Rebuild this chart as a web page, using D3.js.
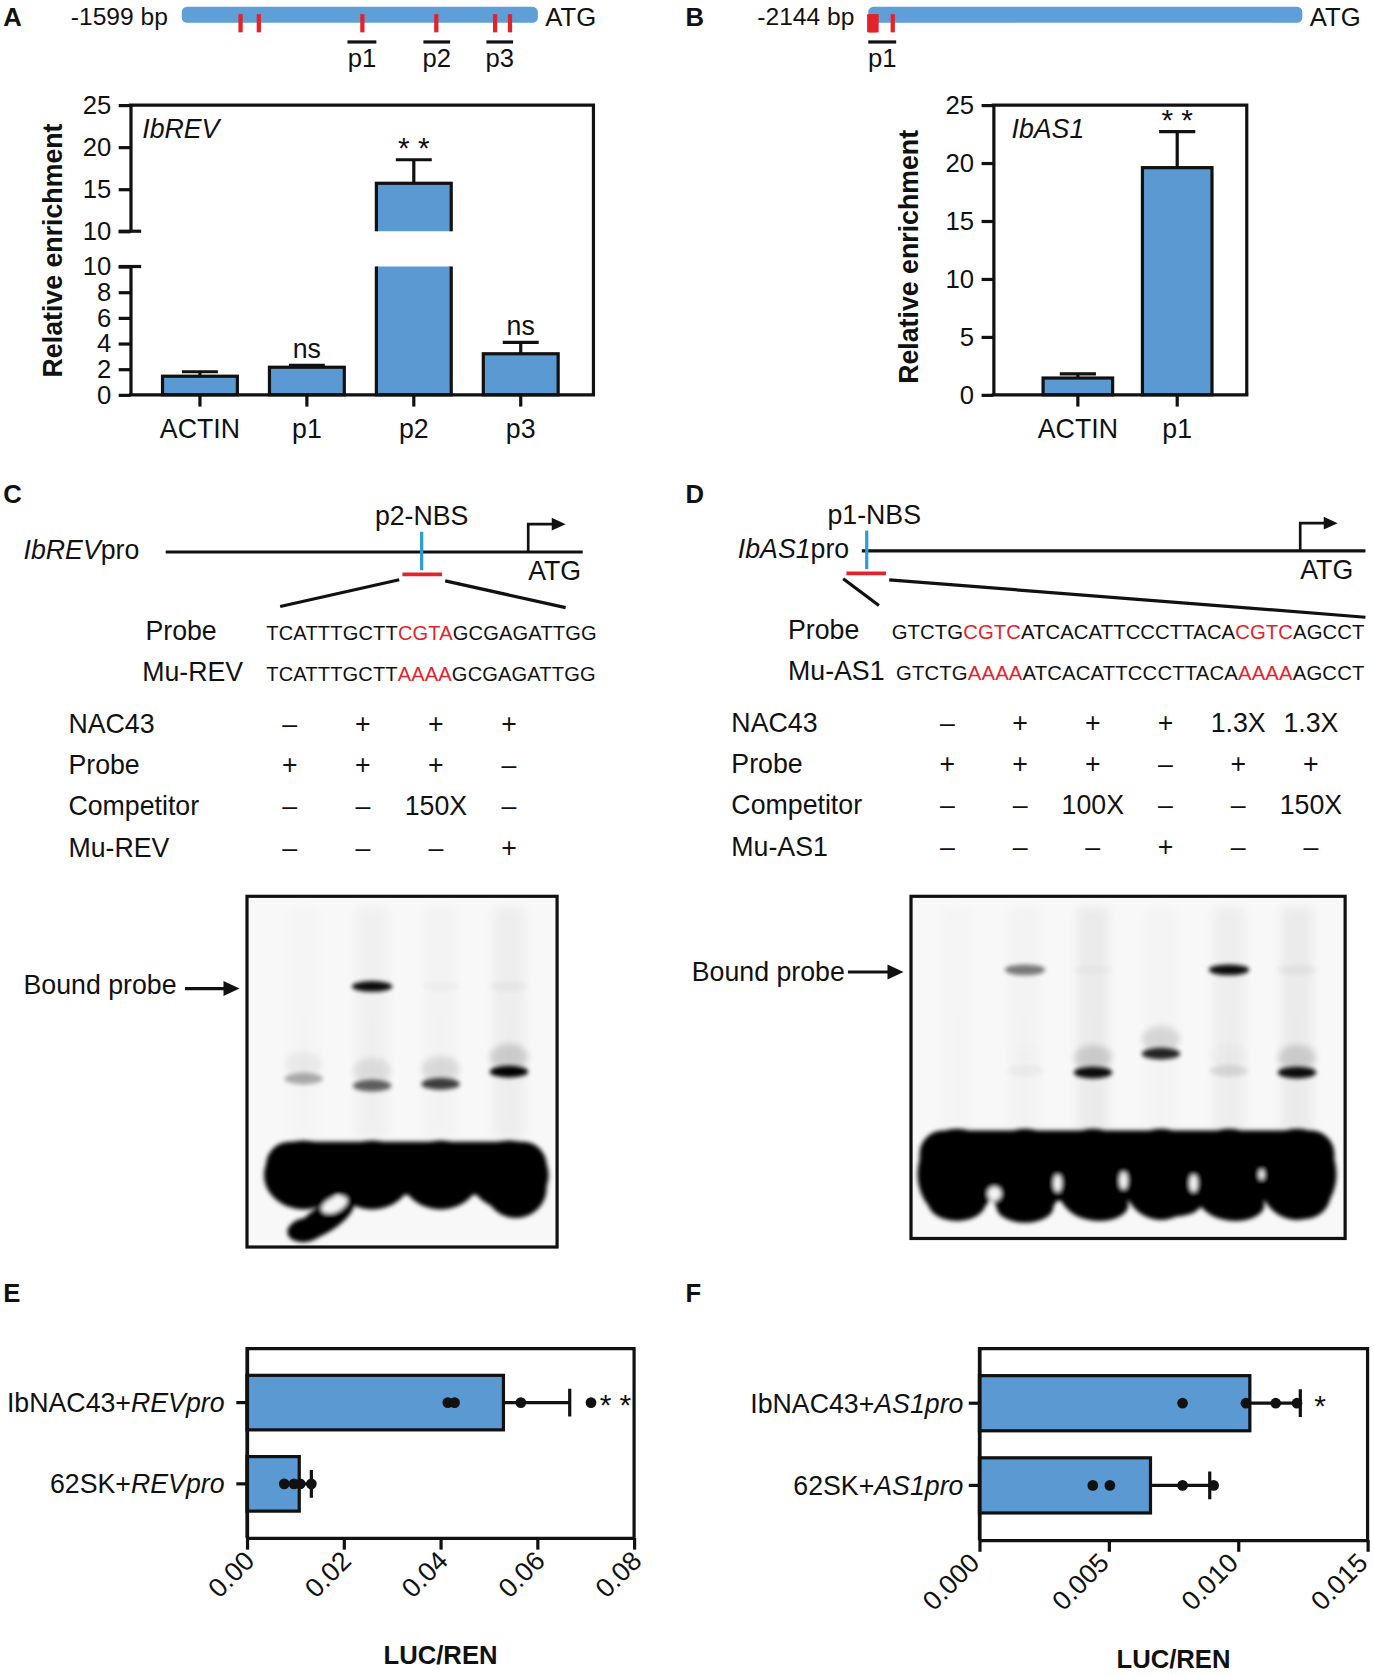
<!DOCTYPE html>
<html>
<head>
<meta charset="utf-8">
<script src="https://cdn.jsdelivr.net/npm/d3@7"></script>
<style>
  body { margin: 0; background: #fff; }
  svg { display: block; }
  text { font-family: "Liberation Sans", Arial, Helvetica, sans-serif; fill: #111; }
</style>
</head>
<body>
<svg id="fig"></svg>
<script>
// ---- ChIP-qPCR (A, B) ----
const revCats = ["ACTIN", "p1", "p2", "p3"];
const revMean = [1.45, 2.15, 15.7, 3.2];
const revSD = [0.35, 0.15, 2.8, 0.88];
const revSig = ["", "ns", "**", "ns"];
const revTicksLow = [0, 2, 4, 6, 8, 10];
const revTicksHigh = [10, 15, 20, 25];

const as1Cats = ["ACTIN", "p1"];
const as1Mean = [1.45, 19.6];
const as1SD = [0.35, 3.1];
const as1Sig = ["", "**"];
const as1Ticks = [0, 5, 10, 15, 20, 25];

// ---- promoter maps, bp upstream of ATG ----
const revPromLen = 1599;
const revSites = [-1335, -1253, -788, -456, -192, -125];
const revProbes = [["p1", -855, -725], ["p2", -514, -394], ["p3", -231, -111]];
const revNBS = -470;
const as1PromLen = 2144;
const as1Sites = [-2139, -2130, -2121, -2112, -2103, -2023];
const as1Probes = [["p1", -2144, -2006]];
const as1NBS = -2120;

// ---- EMSA (C, D) ----
const emsaRevRows = ["NAC43", "Probe", "Competitor", "Mu-REV"];
const emsaRevCells = [
  ["–", "+", "+", "+"],
  ["+", "+", "+", "–"],
  ["–", "–", "150X", "–"],
  ["–", "–", "–", "+"]
];
const revProbeSeq = ["TCATTTGCTT", "CGTA", "GCGAGATTGG"];
const revMutSeq = ["TCATTTGCTT", "AAAA", "GCGAGATTGG"];

const emsaAs1Rows = ["NAC43", "Probe", "Competitor", "Mu-AS1"];
const emsaAs1Cells = [
  ["–", "+", "+", "+", "1.3X", "1.3X"],
  ["+", "+", "+", "–", "+", "+"],
  ["–", "–", "100X", "–", "–", "150X"],
  ["–", "–", "–", "+", "–", "–"]
];
const as1ProbeSeq = ["GTCTG", "CGTC", "ATCACATTCCCTTACA", "CGTC", "AGCCT"];
const as1MutSeq = ["GTCTG", "AAAA", "ATCACATTCCCTTACA", "AAAA", "AGCCT"];

// band intensity per lane and relative mobility
const gelRevBound = [0, 0.95, 0.02, 0.03];
const gelRevFree = [0.3, 0.6, 0.75, 1.0];
const gelRevFreeRf = [0.52, 0.54, 0.535, 0.5];
const gelRevSmear = [0.01, 0.03, 0.02, 0.04];
const gelAs1Bound = [0, 0.5, 0.02, 0, 0.95, 0.04];
const gelAs1Free = [0, 0.03, 0.95, 0.85, 0.1, 0.95];
const gelAs1FreeRf = [0.51, 0.51, 0.515, 0.46, 0.51, 0.515];
const gelAs1Smear = [0.01, 0.02, 0.05, 0.015, 0.04, 0.05];

// ---- dual luciferase (E, F) ----
const lucRevCats = ["IbNAC43+", "62SK+"];
const lucRevItal = ["REVpro", "REVpro"];
const lucRevMean = [0.0530, 0.0108];
const lucRevSD = [0.0137, 0.0025];
const lucRevReps = [[0.0415, 0.0429, 0.0566, 0.0711], [0.0077, 0.0097, 0.0110, 0.0133]];
const lucRevSig = ["**", ""];
const lucRevTicks = [0, 0.02, 0.04, 0.06, 0.08];

const lucAs1Cats = ["IbNAC43+", "62SK+"];
const lucAs1Ital = ["AS1pro", "AS1pro"];
const lucAs1Mean = [0.01045, 0.00661];
const lucAs1SD = [0.00195, 0.00229];
const lucAs1Reps = [[0.00785, 0.0103, 0.01145, 0.01227], [0.00438, 0.00504, 0.00785, 0.00905]];
const lucAs1Sig = ["*", ""];
const lucAs1Ticks = [0, 0.005, 0.010, 0.015];

// ------------------------------------------------------------------
const BLUE = "#5b99d3", RED = "#e3232c", NBS = "#2a9bd8", INK = "#111";
const LW = 3;
const FS = 25;

const svg = d3.select("#fig")
  .attr("width", 1374).attr("height", 1675)
  .attr("viewBox", "0 0 1285 1566");

const defs = svg.append("defs");
[["b1", 1.2], ["b2", 2.2], ["b3", 3.2], ["b5", 5]].forEach(([id, s]) => {
  defs.append("filter").attr("id", id).attr("x", "-50%").attr("y", "-50%")
    .attr("width", "200%").attr("height", "200%")
    .append("feGaussianBlur").attr("stdDeviation", s);
});

function txt(g, x, y, s, size, opt = {}) {
  return g.append("text").attr("x", x).attr("y", y)
    .attr("font-size", size)
    .attr("font-weight", opt.bold ? "bold" : null)
    .attr("font-style", opt.italic ? "italic" : null)
    .attr("text-anchor", opt.anchor || "start")
    .text(s);
}

function styleAxis(g, size) {
  g.selectAll("path, line").attr("stroke", INK).attr("stroke-width", LW);
  g.selectAll("text").attr("font-size", size).attr("fill", INK)
    .attr("font-family", '"Liberation Sans", Arial, sans-serif');
}

// panel letters
[["A", 3, 24], ["B", 641, 24], ["C", 3, 470], ["D", 641, 470], ["E", 3, 1217], ["F", 641, 1217]]
  .forEach(([l, x, y]) => txt(svg, x, y, l, 24, { bold: true }));

// ---------------- promoter maps ----------------
function promoterMap(len, sites, probes, x0, x1) {
  const g = svg.append("g");
  const x = d3.scaleLinear().domain([-len, 0]).range([x0, x1]);
  g.append("rect").attr("x", x0).attr("y", 6).attr("width", x1 - x0).attr("height", 15)
    .attr("rx", 5).attr("fill", "#5e9fd8");
  g.selectAll(".site").data(sites).join("rect")
    .attr("x", d => x(d) - 2).attr("y", 13).attr("width", 4).attr("height", 17)
    .attr("fill", RED);
  g.selectAll(".pr").data(probes).join("line")
    .attr("x1", d => x(d[1])).attr("x2", d => x(d[2]))
    .attr("y1", 39).attr("y2", 39).attr("stroke", INK).attr("stroke-width", 3);
  g.selectAll(".prl").data(probes).join("text")
    .attr("x", d => (x(d[1]) + x(d[2])) / 2).attr("y", 62)
    .attr("text-anchor", "middle").attr("font-size", 24).text(d => d[0]);
  txt(g, x0 - 13, 23, `-${len} bp`, 23, { anchor: "end" });
  txt(g, x1 + 7, 24, "ATG", 24);
}
promoterMap(revPromLen, revSites, revProbes, 170, 503);
promoterMap(as1PromLen, as1Sites, as1Probes, 812, 1218);

// ---------------- A: broken-axis bar chart ----------------
(function () {
  const g = svg.append("g");
  const L = 122, R = 555, T = 98, B = 369;
  const x = d3.scaleBand().domain(revCats).range([137, 537]).paddingInner(0.3).paddingOuter(0.15);
  const yLow = d3.scaleLinear().domain([0, 10]).range([B, 249]);
  const yHigh = d3.scaleLinear().domain([10, 25]).range([216, T]);

  defs.append("clipPath").attr("id", "clipLow").append("rect")
    .attr("x", L).attr("y", 249).attr("width", R - L).attr("height", B - 249 + 3);
  defs.append("clipPath").attr("id", "clipHigh").append("rect")
    .attr("x", L).attr("y", T - 20).attr("width", R - L).attr("height", 216 - T + 20);

  const bars = revCats.map((c, i) => ({ c, v: revMean[i], sd: revSD[i], s: revSig[i] }));
  const low = g.append("g").attr("clip-path", "url(#clipLow)");
  low.selectAll("rect").data(bars).join("rect")
    .attr("x", d => x(d.c)).attr("width", x.bandwidth())
    .attr("y", d => yLow(d.v)).attr("height", d => yLow(0) - yLow(d.v))
    .attr("fill", BLUE).attr("stroke", INK).attr("stroke-width", LW);
  const high = g.append("g").attr("clip-path", "url(#clipHigh)");
  high.selectAll("rect").data(bars.filter(d => d.v > 10)).join("rect")
    .attr("x", d => x(d.c)).attr("width", x.bandwidth())
    .attr("y", d => yHigh(d.v)).attr("height", d => yHigh(10) - yHigh(d.v) + 10)
    .attr("fill", BLUE).attr("stroke", INK).attr("stroke-width", LW);

  const yOf = v => v > 10 ? yHigh(v) : yLow(v);
  const cap = x.bandwidth() * 0.24;
  g.selectAll(".err").data(bars).join("path")
    .attr("d", d => {
      const cx = x(d.c) + x.bandwidth() / 2, y0 = yOf(d.v), y1 = yOf(d.v + d.sd);
      return `M${cx},${y0}V${y1}M${cx - cap},${y1}H${cx + cap}`;
    })
    .attr("stroke", INK).attr("stroke-width", LW).attr("fill", "none");
  g.selectAll(".sig").data(bars.filter(d => d.s)).join("text")
    .attr("x", d => x(d.c) + x.bandwidth() / 2)
    .attr("y", d => d.s === "ns" ? yOf(d.v + d.sd) - 7 : yOf(d.v + d.sd) - 2)
    .attr("text-anchor", "middle").attr("font-size", d => d.s === "ns" ? FS : 28)
    .text(d => d.s === "ns" ? "ns" : "* *");

  // axes
  const aL = g.append("g").attr("transform", `translate(${L},0)`)
    .call(d3.axisLeft(yLow).tickValues(revTicksLow).tickSize(11).tickSizeOuter(0).tickPadding(7));
  const aH = g.append("g").attr("transform", `translate(${L},0)`)
    .call(d3.axisLeft(yHigh).tickValues(revTicksHigh).tickSize(11).tickSizeOuter(0).tickPadding(7));
  styleAxis(aL, 24); styleAxis(aH, 24);
  [216, 249].forEach(y => g.append("line").attr("x1", L - 11).attr("x2", L + 10)
    .attr("y1", y).attr("y2", y).attr("stroke", INK).attr("stroke-width", LW));
  g.append("path").attr("d", `M${L - 1.5},${T}H${R}V${B}`)
    .attr("fill", "none").attr("stroke", INK).attr("stroke-width", LW);
  const aX = g.append("g").attr("transform", `translate(0,${B})`)
    .call(d3.axisBottom(x).tickSize(11).tickSizeOuter(0).tickPadding(12));
  aX.select(".domain").remove();
  styleAxis(aX, FS);
  g.append("line").attr("x1", L - 1.5).attr("x2", R + 1.5).attr("y1", B).attr("y2", B)
    .attr("stroke", INK).attr("stroke-width", LW);

  txt(g, 133, 129, "IbREV", FS, { italic: true });
  txt(g, 0, 0, "Relative enrichment", 25, { bold: true, anchor: "middle" })
    .attr("transform", `translate(58,234) rotate(-90)`);
})();

// ---------------- B ----------------
(function () {
  const g = svg.append("g");
  const L = 929, R = 1166, T = 98, B = 369;
  const x = d3.scaleBand().domain(as1Cats).range([943, 1166]).paddingInner(0.3).paddingOuter(0.35);
  const y = d3.scaleLinear().domain([0, 25]).range([B, T]);
  const bars = as1Cats.map((c, i) => ({ c, v: as1Mean[i], sd: as1SD[i], s: as1Sig[i] }));
  g.selectAll("rect").data(bars).join("rect")
    .attr("x", d => x(d.c)).attr("width", x.bandwidth())
    .attr("y", d => y(d.v)).attr("height", d => y(0) - y(d.v))
    .attr("fill", BLUE).attr("stroke", INK).attr("stroke-width", LW);
  const cap = x.bandwidth() * 0.26;
  g.selectAll(".err").data(bars).join("path")
    .attr("d", d => {
      const cx = x(d.c) + x.bandwidth() / 2, y0 = y(d.v), y1 = y(d.v + d.sd);
      return `M${cx},${y0}V${y1}M${cx - cap},${y1}H${cx + cap}`;
    })
    .attr("stroke", INK).attr("stroke-width", LW).attr("fill", "none");
  g.selectAll(".sig").data(bars.filter(d => d.s)).join("text")
    .attr("x", d => x(d.c) + x.bandwidth() / 2).attr("y", d => y(d.v + d.sd) - 2)
    .attr("text-anchor", "middle").attr("font-size", 28).text("* *");
  const aY = g.append("g").attr("transform", `translate(${L},0)`)
    .call(d3.axisLeft(y).tickValues(as1Ticks).tickSize(11).tickSizeOuter(0).tickPadding(7));
  styleAxis(aY, 24);
  g.append("path").attr("d", `M${L - 1.5},${T}H${R}V${B}`)
    .attr("fill", "none").attr("stroke", INK).attr("stroke-width", LW);
  const aX = g.append("g").attr("transform", `translate(0,${B})`)
    .call(d3.axisBottom(x).tickSize(11).tickSizeOuter(0).tickPadding(12));
  aX.select(".domain").remove();
  styleAxis(aX, FS);
  g.append("line").attr("x1", L - 1.5).attr("x2", R + 1.5).attr("y1", B).attr("y2", B)
    .attr("stroke", INK).attr("stroke-width", LW);
  txt(g, 946, 129, "IbAS1", FS, { italic: true });
  txt(g, 0, 0, "Relative enrichment", 25, { bold: true, anchor: "middle" })
    .attr("transform", `translate(859,240) rotate(-90)`);
})();

// ---------------- C / D: probe diagrams and tables ----------------
function probeDiagram(o) {
  const g = svg.append("g");
  const x = d3.scaleLinear().domain([-o.len, 0]).range([o.x0, o.tss]);
  const t = g.append("text").attr("x", o.nameX).attr("y", o.lineY + 7).attr("font-size", FS);
  t.append("tspan").attr("font-style", "italic").text(o.gene);
  t.append("tspan").text("pro");
  g.append("line").attr("x1", o.x0).attr("x2", o.x1).attr("y1", o.lineY).attr("y2", o.lineY)
    .attr("stroke", INK).attr("stroke-width", LW);
  const nx = x(o.nbs);
  g.append("line").attr("x1", nx).attr("x2", nx).attr("y1", o.lineY - 19).attr("y2", o.lineY + 17)
    .attr("stroke", NBS).attr("stroke-width", 3);
  txt(g, nx + o.nbsDx, o.lineY - 25, o.nbsLabel, FS, { anchor: "middle" });
  g.append("path").attr("d", `M${o.tss},${o.lineY}V${o.lineY - 26}H${o.tss + 26}`)
    .attr("fill", "none").attr("stroke", INK).attr("stroke-width", 2.5);
  g.append("path").attr("d", `M${o.tss + 22},${o.lineY - 32}L${o.tss + 35},${o.lineY - 26}L${o.tss + 22},${o.lineY - 20}Z`)
    .attr("fill", INK);
  txt(g, o.tss, o.lineY + 26, "ATG", FS);
  g.append("line").attr("x1", nx - o.redL).attr("x2", nx + o.redR)
    .attr("y1", o.lineY + 21).attr("y2", o.lineY + 21).attr("stroke", RED).attr("stroke-width", 3.5);
  g.append("line").attr("x1", nx - o.redL - 3).attr("y1", o.lineY + 26)
    .attr("x2", o.zoomL[0]).attr("y2", o.zoomL[1]).attr("stroke", INK).attr("stroke-width", 3);
  g.append("line").attr("x1", nx + o.redR + 3).attr("y1", o.lineY + 27)
    .attr("x2", o.zoomR[0]).attr("y2", o.zoomR[1]).attr("stroke", INK).attr("stroke-width", 3);

  [[o.probeLbl, o.probeSeq, o.seqY], [o.mutLbl, o.mutSeq, o.seqY + 39]].forEach(([lbl, seq, y], k) => {
    txt(g, o.lblX[k], y, lbl, FS);
    const s = g.append("text").attr("x", o.seqX[k]).attr("y", y).attr("font-size", o.seqSize)
      .attr("textLength", o.seqLen[k]).attr("lengthAdjust", "spacing");
    seq.forEach((part, i) => s.append("tspan").attr("fill", i % 2 ? RED : INK).text(part));
  });

  const rowY = d3.scalePoint().domain(d3.range(o.rows.length)).range(o.rowRange);
  const colX = d3.scalePoint().domain(d3.range(o.cells[0].length)).range(o.colRange);
  o.rows.forEach((r, i) => {
    txt(g, o.rowX, rowY(i), r, FS);
    g.selectAll(null).data(o.cells[i]).join("text")
      .attr("x", (d, j) => colX(j)).attr("y", rowY(i))
      .attr("text-anchor", "middle").attr("font-size", FS).text(d => d);
  });
}

probeDiagram({
  len: revPromLen, nbs: revNBS, x0: 155, x1: 545, tss: 494, lineY: 516, nameX: 22,
  gene: "IbREV", nbsLabel: "p2-NBS", nbsDx: 0, redL: 18, redR: 19,
  zoomL: [262, 567], zoomR: [529, 568],
  probeLbl: "Probe", mutLbl: "Mu-REV", probeSeq: revProbeSeq, mutSeq: revMutSeq,
  seqY: 598, lblX: [136, 133], seqX: [249, 249], seqSize: 18.8, seqLen: [309, 308],
  rows: emsaRevRows, cells: emsaRevCells, rowX: 64, rowRange: [685, 801], colRange: [271, 476]
});
probeDiagram({
  len: as1PromLen, nbs: as1NBS, x0: 806, x1: 1277, tss: 1216, lineY: 515, nameX: 690,
  gene: "IbAS1", nbsLabel: "p1-NBS", nbsDx: 7, redL: 19, redR: 18,
  zoomL: [822, 566], zoomR: [1277, 577],
  probeLbl: "Probe", mutLbl: "Mu-AS1", probeSeq: as1ProbeSeq, mutSeq: as1MutSeq,
  seqY: 597, lblX: [737, 737], seqX: [834, 838], seqSize: 19, seqLen: [442, 438],
  rows: emsaAs1Rows, cells: emsaAs1Cells, rowX: 684, rowRange: [684, 800], colRange: [886, 1226]
});

// ---------------- gels ----------------
function gel(o) {
  const g = svg.append("g");
  const id = "gclip" + o.x;
  defs.append("clipPath").attr("id", id).append("rect")
    .attr("x", o.x).attr("y", o.y).attr("width", o.w).attr("height", o.h);
  g.append("rect").attr("x", o.x).attr("y", o.y).attr("width", o.w).attr("height", o.h)
    .attr("fill", "#f8f8f8");
  const inner = g.append("g").attr("clip-path", `url(#${id})`);
  const n = o.bound.length;
  const lane = d3.scalePoint().domain(d3.range(n)).range(o.lanes);
  const rf = d3.scaleLinear().domain([0, 1]).range([o.y, o.y + o.h]);
  const step = lane.step();

  // faint vertical smear in each lane
  inner.selectAll(".sm").data(o.smear).join("rect")
    .attr("x", (d, i) => lane(i) - 15).attr("width", 30)
    .attr("y", o.y + 10).attr("height", rf(o.blobRf) - o.y - 40)
    .attr("fill", "#000").attr("opacity", d => d).attr("filter", "url(#b5)");
  // bound probe
  inner.selectAll(".bd").data(o.bound).join("ellipse")
    .attr("cx", (d, i) => lane(i)).attr("cy", rf(o.boundRf))
    .attr("rx", 19).attr("ry", 5)
    .attr("fill", "#000").attr("opacity", d => d).attr("filter", "url(#b2)");
  // free probe bands, with grainy haze above
  inner.selectAll(".fh").data(o.free).join("ellipse")
    .attr("cx", (d, i) => lane(i)).attr("cy", (d, i) => rf(o.freeRf[i]) - 14)
    .attr("rx", 18).attr("ry", 12)
    .attr("fill", "#000").attr("opacity", d => d * 0.14).attr("filter", "url(#b3)");
  inner.selectAll(".fb").data(o.free).join("ellipse")
    .attr("cx", (d, i) => lane(i)).attr("cy", (d, i) => rf(o.freeRf[i]))
    .attr("rx", 18).attr("ry", 5.5)
    .attr("fill", "#000").attr("opacity", d => d).attr("filter", "url(#b2)");

  // excess free probe
  const cy = rf(o.blobRf);
  const blob = inner.append("g").attr("filter", "url(#b2)");
  blob.append("rect").attr("x", lane(0) - step * 0.55).attr("y", cy - o.blobH * 0.45)
    .attr("width", lane(n - 1) - lane(0) + step * 1.1).attr("height", o.blobH * 0.8)
    .attr("rx", 22).attr("fill", "#050505");
  blob.selectAll(".lobe").data(d3.range(n)).join("ellipse")
    .attr("cx", i => lane(i)).attr("cy", cy + o.blobH * 0.05)
    .attr("rx", step * 0.58).attr("ry", o.blobH * 0.52).attr("fill", "#050505");
  o.extra.forEach(e => {
    const ex = lane(e[0]) + e[1] * step, ey = cy + e[2] * o.blobH;
    blob.append("ellipse").attr("cx", ex).attr("cy", ey)
      .attr("rx", e[3] * step).attr("ry", e[4] * o.blobH)
      .attr("transform", `rotate(${e[5]},${ex},${ey})`)
      .attr("fill", e[6] || "#050505");
  });

  g.append("rect").attr("x", o.x).attr("y", o.y).attr("width", o.w).attr("height", o.h)
    .attr("fill", "none").attr("stroke", INK).attr("stroke-width", 3);

  // label and arrow
  txt(g, o.lblX, o.lblY, "Bound probe", FS);
  const ay = rf(o.boundRf) + 2;
  g.append("line").attr("x1", o.arrow[0]).attr("x2", o.arrow[1] - 10).attr("y1", ay).attr("y2", ay)
    .attr("stroke", INK).attr("stroke-width", 3);
  g.append("path").attr("d", `M${o.arrow[1] - 15},${ay - 7}L${o.arrow[1]},${ay}L${o.arrow[1] - 15},${ay + 7}Z`)
    .attr("fill", INK);
}

const HOLE = "#f4f4f4";
gel({
  x: 231, y: 838, w: 290, h: 328, lanes: [284, 476],
  bound: gelRevBound, boundRf: 0.257, free: gelRevFree, freeRf: gelRevFreeRf, smear: gelRevSmear,
  blobRf: 0.785, blobH: 62,
  extra: [
    [0, 0.3, 0.72, 0.5, 0.2, -32],
    [0, 0.03, 0.88, 0.27, 0.18, -10],
    [3, 0.1, 0.25, 0.45, 0.45, 0],
    [0, 0.45, 0.5, 0.2, 0.11, -25, HOLE]
  ],
  lblX: 22, lblY: 929, arrow: [173, 224]
});
gel({
  x: 852, y: 838, w: 406, h: 320, lanes: [895, 1213],
  bound: gelAs1Bound, boundRf: 0.215, free: gelAs1Free, freeRf: gelAs1FreeRf, smear: gelAs1Smear,
  blobRf: 0.8, blobH: 82,
  extra: [
    [0, 0.0, 0.38, 0.42, 0.2, 0],
    [1, 0.0, 0.42, 0.42, 0.18, 0],
    [2, 0.1, 0.4, 0.42, 0.18, 0],
    [3, 0.2, 0.35, 0.42, 0.18, 0],
    [4, 0.1, 0.4, 0.42, 0.18, 0],
    [5, 0.15, 0.3, 0.35, 0.25, -30],
    [0, 0.55, 0.27, 0.1, 0.08, 0, HOLE],
    [1, 0.48, 0.15, 0.06, 0.1, 0, HOLE],
    [2, 0.45, 0.12, 0.06, 0.1, 0, HOLE],
    [3, 0.48, 0.15, 0.06, 0.1, 0, HOLE],
    [4, 0.48, 0.05, 0.04, 0.06, 0, HOLE]
  ],
  lblX: 647, lblY: 917, arrow: [793, 845]
});

// ---------------- E / F: horizontal bar charts ----------------
function lucChart(o) {
  const g = svg.append("g");
  const x = d3.scaleLinear().domain([0, o.ticks[o.ticks.length - 1]]).range([o.L, o.R]);
  const y = d3.scaleBand().domain(d3.range(o.cats.length)).range([o.T, o.B])
    .paddingInner(0.329).paddingOuter(0.329);
  const bars = o.cats.map((c, i) => ({ i, v: o.mean[i], sd: o.sd[i], reps: o.reps[i], s: o.sig[i] }));

  g.selectAll(".bar").data(bars).join("rect")
    .attr("x", x(0)).attr("width", d => x(d.v) - x(0))
    .attr("y", d => y(d.i)).attr("height", y.bandwidth())
    .attr("fill", BLUE).attr("stroke", INK).attr("stroke-width", LW);
  const cy = d => y(d.i) + y.bandwidth() / 2;
  g.selectAll(".err").data(bars).join("path")
    .attr("d", d => `M${x(d.v)},${cy(d)}H${x(d.v + d.sd)}M${x(d.v + d.sd)},${cy(d) - 13}V${cy(d) + 13}`)
    .attr("stroke", INK).attr("stroke-width", LW).attr("fill", "none");
  g.selectAll(".dots").data(bars).join("g")
    .selectAll("circle").data(d => d.reps.map(v => ({ v, c: cy(d) }))).join("circle")
    .attr("cx", d => x(d.v)).attr("cy", d => d.c).attr("r", 5).attr("fill", INK);
  g.selectAll(".sig").data(bars.filter(d => d.s)).join("text")
    .attr("x", d => x(d.v + d.sd) + o.sigDx).attr("y", d => cy(d) + 12)
    .attr("font-size", 28).text(d => d.s === "**" ? "* *" : "*");

  const aX = g.append("g").attr("transform", `translate(0,${o.B})`)
    .call(d3.axisBottom(x).tickValues(o.ticks).tickFormat(d3.format(o.fmt)).tickSize(11).tickSizeOuter(0));
  styleAxis(aX, FS);
  aX.selectAll("text").attr("text-anchor", "end").attr("dy", null)
    .attr("transform", `translate(${o.tickDx},23) rotate(-45)`).attr("y", 0).attr("x", 0);
  const aY = g.append("g").attr("transform", `translate(${o.L},0)`)
    .call(d3.axisLeft(y).tickSize(10).tickSizeOuter(0).tickFormat(""));
  styleAxis(aY, FS);
  g.append("path").attr("d", `M${o.L},${o.B}V${o.T}H${o.R}V${o.B}`)
    .attr("fill", "none").attr("stroke", INK).attr("stroke-width", LW);
  bars.forEach(d => {
    const t = g.append("text").attr("x", o.L - o.lblGap).attr("y", cy(d) + 9)
      .attr("text-anchor", "end").attr("font-size", FS);
    t.append("tspan").text(o.cats[d.i]);
    t.append("tspan").attr("font-style", "italic").text(o.ital[d.i]);
  });
  txt(g, (o.L + o.R) / 2, o.titleY, "LUC/REN", 24, { bold: true, anchor: "middle" });
}

lucChart({
  cats: lucRevCats, ital: lucRevItal, mean: lucRevMean, sd: lucRevSD, reps: lucRevReps,
  sig: lucRevSig, ticks: lucRevTicks, fmt: ".2f",
  L: 231, R: 593, T: 1261, B: 1438, sigDx: 28, titleY: 1556, tickDx: 8, lblGap: 21
});
lucChart({
  cats: lucAs1Cats, ital: lucAs1Ital, mean: lucAs1Mean, sd: lucAs1SD, reps: lucAs1Reps,
  sig: lucAs1Sig, ticks: lucAs1Ticks, fmt: ".3f",
  L: 916, R: 1279, T: 1261, B: 1440, sigDx: 13, titleY: 1560, tickDx: 1, lblGap: 15
});
</script>
</body>
</html>
